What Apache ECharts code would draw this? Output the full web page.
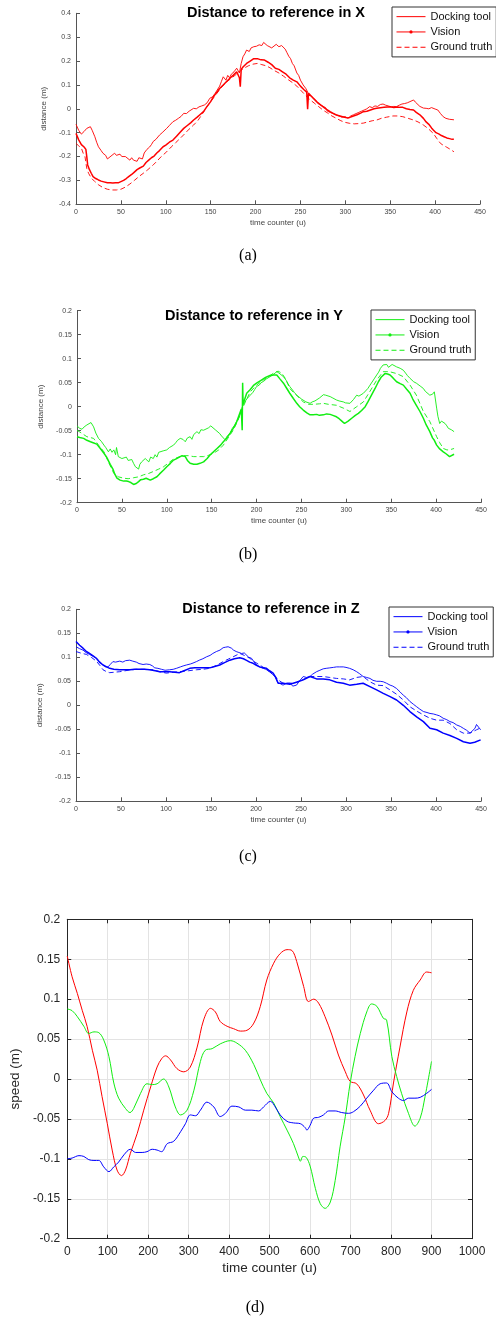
<!DOCTYPE html>
<html>
<head>
<meta charset="utf-8">
<script src="https://cdn.jsdelivr.net/npm/echarts@6/dist/echarts.min.js"></script>
<style>
  html, body { margin: 0; padding: 0; background: #ffffff; }
  #chart { width: 496px; height: 1320px; }
</style>
</head>
<body>
<div id="chart"></div>
<script>
// ---- Series names and labels ----
const seriesNames = ['Docking tool', 'Vision', 'Ground truth'];
const panelTitles = ['Distance to reference in X', 'Distance to reference in Y', 'Distance to reference in Z'];
const captions = ['(a)', '(b)', '(c)', '(d)'];

// ---- (a) distance in X: [time counter, distance] ----
const xDocking = [[0,-0.065],[3,-0.09],[6,-0.106],[9,-0.095],[12,-0.082],[14,-0.088],[16,-0.075],[18,-0.09],[21,-0.117],[23,-0.14],[25,-0.159],[28,-0.175],[30,-0.186],[33,-0.195],[35,-0.21],[37,-0.215],[39,-0.198],[41,-0.205],[43,-0.186],[45,-0.195],[47,-0.19],[49,-0.19],[51,-0.2],[53,-0.195],[55,-0.2],[57,-0.208],[60,-0.215],[62,-0.205],[64,-0.215],[66,-0.222],[68,-0.22],[70,-0.205],[72,-0.2],[74,-0.21],[76,-0.185],[79,-0.17],[82,-0.16],[84,-0.15],[86,-0.137],[89,-0.128],[91,-0.12],[93,-0.11],[96,-0.1],[98,-0.095],[101,-0.082],[104,-0.07],[106,-0.065],[108,-0.054],[111,-0.048],[114,-0.04],[117,-0.032],[120,-0.019],[123,-0.02],[126,-0.01],[128,-0.008],[131,0.002],[134,0.0],[137,0.008],[140,0.012],[143,0.016],[146,0.025],[149,0.044],[152,0.05],[155,0.065],[157,0.072],[160,0.095],[162,0.115],[164,0.134],[167,0.12],[169,0.14],[171,0.13],[173,0.145],[176,0.155],[179,0.17],[182,0.15],[184,0.19],[186,0.218],[188,0.23],[190,0.246],[193,0.24],[195,0.255],[198,0.26],[201,0.262],[204,0.268],[207,0.265],[209,0.278],[211,0.27],[213,0.265],[215,0.26],[218,0.255],[220,0.262],[223,0.27],[226,0.26],[229,0.265],[231,0.262],[233,0.25],[235,0.235],[237,0.22],[239,0.21],[241,0.19],[243,0.18],[246,0.15],[248,0.14],[250,0.12],[253,0.1],[256,0.085],[258,0.07],[260,0.058],[263,0.05],[266,0.04],[268,0.035],[270,0.02],[272,0.025],[275,0.01],[278,0.005],[280,-0.01],[283,-0.015],[286,-0.02],[290,-0.025],[293,-0.03],[296,-0.035],[300,-0.033],[303,-0.04],[306,-0.03],[309,-0.025],[312,-0.02],[315,-0.015],[318,-0.01],[321,-0.005],[324,0.0],[327,0.009],[330,0.005],[333,0.012],[336,0.01],[339,0.018],[342,0.02],[345,0.015],[348,0.012],[351,0.008],[354,0.01],[357,0.009],[360,0.015],[363,0.02],[366,0.022],[369,0.025],[372,0.03],[376,0.037],[378,0.028],[380,0.02],[383,0.01],[387,0.003],[390,0.002],[393,0.0],[396,0.005],[400,-0.001],[403,-0.005],[406,-0.02],[409,-0.033],[412,-0.04],[414,-0.038],[416,-0.044],[418,-0.04],[421,-0.046]];
const xVision = [[0,-0.103],[3,-0.13],[6,-0.15],[9,-0.16],[11,-0.17],[12,-0.2],[13,-0.235],[15,-0.255],[17,-0.27],[19,-0.284],[22,-0.292],[25,-0.298],[28,-0.303],[31,-0.306],[35,-0.31],[38,-0.31],[41,-0.311],[44,-0.31],[47,-0.31],[50,-0.305],[53,-0.3],[56,-0.292],[59,-0.283],[62,-0.275],[65,-0.265],[68,-0.255],[71,-0.248],[75,-0.24],[78,-0.225],[81,-0.215],[84,-0.205],[87,-0.198],[90,-0.185],[93,-0.175],[97,-0.159],[100,-0.152],[104,-0.14],[108,-0.131],[112,-0.115],[116,-0.098],[120,-0.082],[124,-0.07],[128,-0.058],[131,-0.047],[135,-0.035],[138,-0.025],[142,-0.012],[146,0.01],[150,0.03],[153,0.05],[157,0.07],[160,0.085],[164,0.1],[168,0.115],[172,0.13],[175,0.14],[179,0.155],[181,0.16],[182,0.13],[183,0.093],[184,0.165],[186,0.175],[190,0.19],[194,0.2],[198,0.21],[202,0.21],[206,0.205],[210,0.204],[214,0.195],[218,0.185],[222,0.17],[226,0.165],[230,0.155],[234,0.145],[238,0.13],[242,0.12],[246,0.113],[250,0.095],[254,0.08],[256,0.075],[257,0.07],[258,-0.002],[259,0.065],[261,0.058],[264,0.045],[268,0.03],[272,0.018],[275,0.009],[279,-0.002],[283,-0.012],[287,-0.02],[290,-0.026],[294,-0.03],[298,-0.034],[302,-0.038],[305,-0.036],[309,-0.03],[313,-0.025],[317,-0.018],[320,-0.012],[324,-0.01],[328,-0.005],[332,0.0],[335,0.002],[339,0.004],[343,0.006],[347,0.008],[350,0.009],[354,0.005],[358,0.008],[361,0.006],[364,0.006],[368,0.0],[372,-0.003],[376,-0.005],[379,-0.015],[383,-0.025],[387,-0.04],[390,-0.055],[393,-0.065],[396,-0.08],[398,-0.089],[401,-0.1],[404,-0.105],[407,-0.112],[410,-0.117],[413,-0.122],[416,-0.125],[419,-0.128],[421,-0.127]];
const xTruth = [[0,-0.145],[3,-0.155],[6,-0.165],[8,-0.186],[10,-0.2],[12,-0.25],[14,-0.27],[17,-0.29],[21,-0.305],[25,-0.318],[30,-0.33],[35,-0.337],[40,-0.34],[45,-0.34],[50,-0.337],[55,-0.328],[60,-0.315],[65,-0.3],[70,-0.284],[75,-0.27],[80,-0.255],[86,-0.235],[90,-0.22],[95,-0.2],[101,-0.18],[106,-0.16],[111,-0.142],[116,-0.124],[121,-0.105],[126,-0.085],[131,-0.068],[136,-0.048],[141,-0.02],[146,0.009],[151,0.035],[157,0.065],[162,0.09],[167,0.11],[172,0.125],[177,0.14],[182,0.155],[187,0.17],[192,0.18],[197,0.187],[202,0.19],[207,0.185],[212,0.18],[216,0.172],[221,0.16],[226,0.15],[231,0.137],[236,0.123],[241,0.11],[246,0.095],[251,0.075],[256,0.055],[261,0.037],[266,0.022],[270,0.01],[275,-0.005],[280,-0.017],[285,-0.03],[290,-0.04],[295,-0.05],[300,-0.057],[305,-0.061],[310,-0.063],[315,-0.062],[320,-0.06],[325,-0.055],[330,-0.05],[335,-0.047],[340,-0.04],[346,-0.035],[353,-0.03],[358,-0.03],[364,-0.033],[370,-0.04],[376,-0.047],[381,-0.055],[387,-0.068],[392,-0.082],[398,-0.103],[402,-0.125],[406,-0.145],[410,-0.155],[413,-0.161],[417,-0.17],[421,-0.18]];

// ---- (b) distance in Y ----
const yDocking = [[0,-0.04],[3,-0.045],[5.6,-0.047],[8,-0.042],[11,-0.038],[13,-0.035],[15.6,-0.033],[17,-0.036],[18.5,-0.042],[21,-0.055],[24,-0.066],[27,-0.072],[30,-0.08],[32,-0.085],[35,-0.094],[37,-0.088],[39,-0.095],[41,-0.09],[43,-0.1],[44,-0.085],[46,-0.104],[48,-0.1],[50,-0.108],[52,-0.11],[55,-0.105],[57,-0.112],[59,-0.115],[61,-0.11],[63,-0.118],[65,-0.125],[67,-0.128],[68.6,-0.13],[70,-0.12],[72,-0.115],[74,-0.118],[76,-0.108],[78,-0.11],[80,-0.115],[82,-0.105],[85,-0.108],[87,-0.1],[89,-0.105],[91,-0.095],[93,-0.097],[96,-0.092],[98,-0.095],[100,-0.09],[103,-0.085],[105,-0.088],[107.6,-0.08],[110,-0.075],[112,-0.07],[115,-0.066],[117,-0.07],[118,-0.068],[120.6,-0.073],[123,-0.065],[126,-0.0625],[128,-0.068],[130,-0.058],[133.6,-0.052],[136,-0.056],[138,-0.048],[141,-0.049],[143,-0.045],[146.5,-0.044],[149,-0.04],[151,-0.042],[154,-0.048],[156,-0.052],[159,-0.056],[161,-0.061],[163,-0.065],[165,-0.069],[167,-0.062],[170.6,-0.055],[173,-0.045],[176,-0.038],[178,-0.03],[180,-0.024],[182,-0.015],[183.6,-0.003],[186,0.008],[188,0.012],[190,0.018],[193,0.024],[196,0.03],[198,0.036],[200,0.042],[203,0.045],[205,0.05],[208,0.053],[211,0.058],[215,0.0625],[218,0.066],[220,0.068],[222.5,0.073],[225,0.07],[227,0.066],[230,0.0625],[233,0.055],[235,0.048],[237,0.042],[240,0.035],[242,0.03],[244.8,0.024],[247,0.02],[250,0.016],[252,0.014],[255,0.01],[257,0.008],[259.6,0.007],[262,0.01],[265,0.012],[267,0.014],[270,0.018],[272,0.022],[274.5,0.025],[277,0.024],[279,0.022],[282,0.021],[285,0.018],[287,0.016],[289,0.014],[292,0.012],[294,0.011],[296.7,0.01],[299,0.008],[301,0.006],[304,0.007],[306,0.01],[308,0.015],[311.5,0.024],[314,0.022],[316,0.025],[319,0.028],[321,0.032],[324,0.038],[326.4,0.045],[328,0.048],[331,0.058],[333.8,0.066],[336,0.072],[338,0.08],[341,0.087],[343,0.083],[345,0.088],[347,0.082],[348.7,0.085],[351,0.088],[353,0.084],[356,0.083],[358,0.086],[360,0.08],[363.5,0.076],[366,0.07],[368,0.065],[371,0.059],[373,0.055],[375,0.052],[378,0.049],[380,0.045],[383,0.042],[385.8,0.038],[388,0.032],[390,0.028],[393,0.024],[395,0.028],[396,0.026],[398,0.031],[399,0.028],[400.6,-0.003],[402,-0.02],[404,-0.035],[406,-0.03],[408,-0.028],[410,-0.035],[412,-0.04],[413.6,-0.045],[415,-0.042],[417,-0.048],[420,-0.052]];
const yVision = [[0,-0.0625],[3,-0.064],[7.4,-0.066],[11,-0.07],[15,-0.073],[18,-0.075],[22,-0.078],[26,-0.087],[30,-0.097],[33,-0.105],[37,-0.12],[40,-0.13],[42,-0.14],[44.5,-0.149],[48,-0.153],[52,-0.155],[55,-0.155],[57.5,-0.156],[60,-0.158],[63,-0.162],[66,-0.16],[68.6,-0.156],[71,-0.152],[74,-0.151],[77,-0.149],[79,-0.152],[81.6,-0.153],[85,-0.15],[89,-0.146],[92,-0.14],[96.5,-0.132],[100,-0.125],[104,-0.118],[107,-0.112],[111,-0.108],[114,-0.105],[117,-0.102],[120.6,-0.104],[123,-0.112],[126,-0.118],[130,-0.12],[133.6,-0.12],[137,-0.118],[141,-0.115],[145,-0.108],[148.4,-0.1],[152,-0.094],[156,-0.087],[160,-0.08],[163,-0.073],[167,-0.065],[170.6,-0.055],[174,-0.045],[178,-0.031],[181,-0.015],[183,-0.005],[184,-0.049],[184.5,0.05],[185,0.005],[189,0.028],[193,0.036],[197,0.045],[200,0.049],[205,0.055],[210,0.061],[215,0.065],[219,0.066],[222.5,0.066],[226,0.058],[230,0.049],[233,0.04],[237,0.028],[241,0.017],[244.8,0.007],[248,0.0],[252,-0.007],[256,-0.013],[259.6,-0.017],[263,-0.017],[267,-0.016],[270,-0.018],[274.5,-0.017],[278,-0.015],[282,-0.016],[285,-0.018],[289,-0.021],[292,-0.025],[295,-0.03],[298,-0.035],[302,-0.03],[306,-0.024],[310,-0.018],[313.4,-0.014],[317,-0.008],[321,0.0],[324,0.01],[328,0.024],[332,0.038],[335.7,0.052],[339,0.062],[343,0.069],[346,0.068],[348.7,0.066],[352,0.06],[356,0.052],[360,0.048],[363.5,0.045],[367,0.037],[371,0.028],[374,0.016],[378,0.003],[382,-0.01],[385.8,-0.024],[389,-0.038],[393,-0.052],[396,-0.065],[398,-0.07],[400.6,-0.08],[404,-0.088],[408,-0.094],[411,-0.098],[413,-0.1],[415,-0.104],[417,-0.102],[420,-0.099]];
const yTruth = [[0,-0.049],[5,-0.055],[11,-0.0625],[18.5,-0.066],[24,-0.08],[30,-0.094],[35,-0.115],[41,-0.139],[46,-0.146],[52,-0.149],[57,-0.15],[63,-0.148],[69,-0.146],[74,-0.142],[80,-0.139],[85,-0.135],[91,-0.13],[96.5,-0.125],[102,-0.117],[107.6,-0.109],[113,-0.105],[118.7,-0.102],[124,-0.102],[130,-0.104],[136,-0.104],[141,-0.104],[147,-0.101],[152,-0.097],[158,-0.09],[163,-0.08],[168,-0.066],[174,-0.049],[179,-0.03],[183.6,-0.007],[188,0.012],[193,0.031],[200,0.045],[208,0.056],[215,0.065],[219,0.07],[224,0.074],[228,0.07],[232,0.059],[237,0.038],[242,0.028],[246,0.021],[252,0.01],[258,0.005],[264,0.005],[270,0.006],[274.5,0.007],[280,0.005],[289,0.003],[296.7,-0.003],[304,-0.01],[311.5,0.0],[319,0.01],[326,0.031],[334,0.056],[341,0.073],[348,0.073],[356,0.069],[363.5,0.0625],[371,0.045],[378,0.024],[385.8,-0.01],[393,-0.031],[400.6,-0.0625],[404,-0.075],[408,-0.087],[412,-0.09],[415,-0.09],[420,-0.087]];

// ---- (c) distance in Z ----
const zDocking = [[0,0.122],[4,0.118],[7.8,0.115],[11,0.11],[15,0.106],[19,0.102],[22.6,0.098],[26,0.092],[30,0.084],[33,0.08],[35.6,0.08],[38,0.085],[41,0.091],[44,0.09],[48.6,0.092],[52,0.09],[55,0.093],[59.7,0.094],[63,0.092],[67,0.09],[70,0.087],[74.5,0.085],[78,0.086],[82,0.085],[85,0.082],[87.5,0.078],[91,0.077],[95,0.075],[99,0.073],[104,0.074],[108,0.075],[111.6,0.077],[116,0.08],[119,0.082],[122.7,0.084],[127,0.086],[130,0.088],[133.8,0.091],[137,0.094],[141,0.097],[145,0.101],[149,0.104],[152,0.108],[156,0.112],[160,0.115],[163.5,0.12],[166,0.121],[169,0.122],[172.7,0.119],[175,0.115],[178,0.112],[181,0.11],[184,0.108],[187,0.109],[189,0.105],[192,0.1],[195,0.098],[198,0.09],[200.5,0.084],[204,0.08],[208,0.077],[211,0.075],[215,0.07],[218,0.065],[221,0.06],[224.6,0.046],[227,0.045],[230,0.042],[234,0.046],[237.6,0.046],[241,0.04],[245,0.042],[248,0.05],[252.5,0.06],[256,0.058],[260,0.06],[263,0.065],[267.3,0.07],[271,0.073],[274.7,0.076],[278,0.077],[282,0.078],[286,0.079],[289.5,0.08],[293,0.08],[297,0.08],[300,0.079],[304,0.077],[308,0.074],[311.8,0.07],[315,0.066],[319,0.06],[323,0.058],[326.6,0.056],[330,0.052],[334,0.05],[338,0.05],[341.4,0.049],[345,0.046],[349,0.042],[352,0.04],[356.2,0.035],[360,0.028],[363.7,0.021],[367,0.016],[371,0.008],[375,0.002],[378.5,-0.003],[382,-0.008],[386,-0.013],[390,-0.015],[393.3,-0.017],[397,-0.018],[400.7,-0.02],[404,-0.022],[408,-0.027],[412,-0.03],[415.5,-0.034],[419,-0.036],[423,-0.041],[427,-0.044],[430.4,-0.048],[434,-0.052],[437.8,-0.058],[440,-0.055],[443.3,-0.048],[445,-0.04],[447,-0.044],[449.6,-0.051]];
const zVision = [[0,0.133],[4,0.125],[7.8,0.119],[11,0.113],[15,0.108],[19,0.103],[22.6,0.098],[26,0.09],[30,0.084],[34,0.08],[37.4,0.077],[42,0.075],[48.6,0.074],[55,0.074],[60,0.074],[65,0.075],[70.8,0.075],[76,0.075],[82,0.074],[88,0.072],[93,0.07],[99,0.07],[104,0.07],[110,0.069],[115,0.068],[120,0.072],[126.4,0.077],[132,0.078],[137.5,0.078],[143,0.078],[148.6,0.078],[154,0.081],[159.7,0.084],[165,0.089],[170.9,0.094],[176,0.097],[182,0.099],[186,0.097],[189,0.094],[193,0.09],[196.8,0.0875],[200,0.084],[204,0.08],[208,0.078],[211.6,0.077],[215,0.072],[219,0.067],[222,0.058],[224.6,0.046],[230,0.046],[237.6,0.044],[245,0.048],[252.5,0.053],[260,0.06],[267.3,0.055],[274.7,0.055],[282,0.053],[289.5,0.048],[297,0.046],[304,0.042],[311.8,0.044],[319,0.046],[326.6,0.039],[334,0.032],[341.4,0.025],[349,0.018],[356.2,0.011],[363.7,0.0],[371,-0.013],[378.5,-0.024],[386,-0.034],[393.3,-0.048],[400.7,-0.051],[408,-0.058],[415.5,-0.063],[423,-0.069],[430.4,-0.076],[437.8,-0.079],[443,-0.077],[449.6,-0.072]];
const zTruth = [[0,0.112],[5,0.109],[11.5,0.106],[17,0.1],[22.6,0.092],[27,0.082],[30,0.074],[34,0.07],[37.4,0.068],[43,0.069],[48.6,0.07],[58,0.073],[67,0.075],[76,0.075],[85.6,0.074],[93,0.07],[100.4,0.067],[108,0.069],[115,0.07],[125,0.072],[133.8,0.074],[141,0.075],[148.6,0.077],[156,0.083],[163.5,0.091],[169,0.096],[174.6,0.101],[182,0.108],[187,0.104],[193,0.098],[198,0.091],[204,0.084],[210,0.077],[215,0.07],[220,0.063],[224.6,0.053],[230,0.046],[237.6,0.046],[245,0.048],[252.5,0.054],[260,0.06],[267.3,0.06],[274.7,0.06],[282,0.058],[289.5,0.056],[297,0.055],[304,0.053],[311.8,0.058],[319,0.06],[326.6,0.049],[334,0.042],[341.4,0.041],[349,0.032],[356.2,0.023],[363.7,0.011],[371,-0.003],[378.5,-0.012],[386,-0.02],[393.3,-0.027],[400.7,-0.031],[408,-0.031],[415.5,-0.038],[423,-0.051],[430.4,-0.058],[437.8,-0.058],[445,-0.051],[449.6,-0.047]];

// ---- (d) speed: [time counter, speed] ----
const speedRed = [[0,0.154],[12,0.128],[25,0.107],[37,0.086],[49,0.066],[62,0.036],[74,0.011],[86,-0.022],[99,-0.056],[111,-0.089],[123,-0.114],[134,-0.121],[144,-0.114],[156,-0.093],[173,-0.068],[189,-0.039],[206,-0.01],[222,0.015],[234,0.026],[243,0.029],[255,0.024],[271,0.013],[288,0.009],[304,0.015],[321,0.04],[337,0.074],[354,0.0885],[366,0.084],[378,0.072],[395,0.066],[411,0.063],[428,0.06],[444,0.061],[461,0.07],[477,0.091],[493,0.124],[510,0.145],[526,0.157],[543,0.162],[555,0.161],[567,0.147],[584,0.116],[596,0.097],[609,0.1],[621,0.095],[637,0.078],[654,0.055],[670,0.03],[687,0.009],[699,-0.003],[715,-0.006],[732,-0.02],[748,-0.039],[769,-0.056],[785,-0.052],[794,-0.043],[806,-0.005],[822,0.04],[839,0.084],[855,0.111],[872,0.124],[888,0.134],[900,0.133]];
const speedGreen = [[0,0.0877],[12,0.0856],[25,0.078],[41,0.066],[53,0.057],[66,0.059],[78,0.058],[90,0.049],[103,0.028],[115,-0.005],[127,-0.024],[144,-0.037],[155,-0.042],[164,-0.037],[181,-0.018],[197,-0.006],[210,-0.007],[222,-0.006],[238,0.0],[251,-0.01],[267,-0.035],[280,-0.045],[296,-0.039],[313,-0.014],[329,0.022],[341,0.036],[358,0.038],[378,0.044],[403,0.048],[419,0.045],[440,0.036],[461,0.018],[477,-0.001],[493,-0.018],[510,-0.03],[526,-0.047],[543,-0.064],[559,-0.081],[572,-0.099],[576,-0.103],[582,-0.097],[590,-0.098],[600,-0.109],[613,-0.137],[625,-0.156],[637,-0.162],[650,-0.154],[662,-0.127],[674,-0.085],[687,-0.047],[699,-0.005],[711,0.028],[724,0.057],[740,0.084],[752,0.094],[765,0.091],[781,0.076],[789,0.074],[802,0.028],[814,0.003],[826,-0.018],[843,-0.043],[859,-0.059],[872,-0.049],[884,-0.022],[900,0.022]];
const speedBlue = [[0,-0.1],[12,-0.099],[29,-0.096],[41,-0.097],[53,-0.101],[66,-0.102],[78,-0.102],[90,-0.11],[103,-0.116],[115,-0.11],[127,-0.104],[140,-0.095],[156,-0.088],[169,-0.092],[185,-0.092],[197,-0.091],[210,-0.088],[222,-0.089],[233,-0.091],[247,-0.081],[263,-0.078],[280,-0.066],[292,-0.056],[304,-0.045],[317,-0.046],[329,-0.039],[345,-0.029],[362,-0.035],[378,-0.047],[391,-0.043],[407,-0.034],[424,-0.035],[440,-0.039],[456,-0.039],[473,-0.04],[485,-0.035],[502,-0.028],[514,-0.035],[526,-0.045],[543,-0.053],[559,-0.055],[576,-0.056],[588,-0.061],[592,-0.064],[600,-0.058],[609,-0.049],[621,-0.048],[633,-0.045],[646,-0.04],[662,-0.04],[678,-0.042],[695,-0.043],[707,-0.041],[724,-0.034],[740,-0.024],[757,-0.014],[773,-0.006],[789,-0.005],[802,-0.016],[818,-0.024],[831,-0.027],[843,-0.024],[859,-0.024],[872,-0.023],[888,-0.018],[900,-0.013]];

// ---- Layout and style ----
const SANS = 'Liberation Sans, Arial, sans-serif';
const SERIF = 'Liberation Serif, Times New Roman, serif';
const AXIS_GRAY = '#555555';
const plainNumber = v => String(v);

const distPanels = [
  { grid: { left: 76, top: 13.3, width: 404, height: 191 }, yMin: -0.4, yMax: 0.4, yStep: 0.1,
    color: '#ff0000', data: [xDocking, xVision, xTruth], titleY: 12.5, titleX: 276,
    legend: { left: 392, top: 7 }, captionY: 256 },
  { grid: { left: 77, top: 310.7, width: 404, height: 192 }, yMin: -0.2, yMax: 0.2, yStep: 0.05,
    color: '#11ee11', data: [yDocking, yVision, yTruth], titleY: 315.7, titleX: 254,
    legend: { left: 371, top: 310 }, captionY: 555 },
  { grid: { left: 76, top: 609.3, width: 405, height: 192 }, yMin: -0.2, yMax: 0.2, yStep: 0.05,
    color: '#0000ff', data: [zDocking, zVision, zTruth], titleY: 609, titleX: 271,
    legend: { left: 389, top: 607 }, captionY: 857 }
];

const grids = [], xAxes = [], yAxes = [], series = [], legends = [], graphics = [];

distPanels.forEach((p, i) => {
  grids.push(Object.assign({ containLabel: false }, p.grid));
  xAxes.push({
    gridIndex: i, type: 'value', min: 0, max: 450, interval: 50,
    axisLine: { show: true, onZero: false, lineStyle: { color: AXIS_GRAY, width: 1 } },
    axisTick: { show: true, inside: true, length: 4, lineStyle: { color: AXIS_GRAY } },
    axisLabel: { fontSize: 7, color: '#444', margin: 4, fontFamily: SANS, formatter: plainNumber },
    splitLine: { show: false },
    name: 'time counter (u)', nameLocation: 'middle', nameGap: 14,
    nameTextStyle: { fontSize: 8, color: '#444', fontFamily: SANS }
  });
  yAxes.push({
    gridIndex: i, type: 'value', min: p.yMin, max: p.yMax, interval: p.yStep,
    axisLine: { show: true, onZero: false, lineStyle: { color: AXIS_GRAY, width: 1 } },
    axisTick: { show: true, inside: true, length: 4, lineStyle: { color: AXIS_GRAY } },
    axisLabel: { fontSize: 7, color: '#444', margin: 5, fontFamily: SANS },
    splitLine: { show: false },
    name: 'distance (m)', nameLocation: 'middle', nameGap: 27,
    nameTextStyle: { fontSize: 8, color: '#444', fontFamily: SANS }
  });
  seriesNames.forEach((name, k) => {
    series.push({
      name: name, type: 'line', xAxisIndex: i, yAxisIndex: i,
      data: p.data[k], symbol: 'none', animation: false, silent: true,
      lineStyle: {
        color: p.color,
        width: k === 1 ? 1.5 : 0.9,
        type: k === 2 ? [5, 3] : 'solid'
      },
      itemStyle: { color: p.color },
      z: 3 - k
    });
  });
  legends.push({
    left: p.legend.left, top: p.legend.top, orient: 'vertical',
    backgroundColor: '#ffffff', borderColor: '#333333', borderWidth: 1,
    padding: [3, 4, 3, 4], itemGap: 2, itemWidth: 29, itemHeight: 4,
    selectedMode: false,
    textStyle: { fontSize: 11, color: '#111', fontFamily: SANS, lineHeight: 13.3 },
    data: seriesNames.map((name, k) => ({
      name: name,
      lineStyle: { color: p.color, width: 1, type: k === 2 ? [5, 3] : 'solid', opacity: 1 },
      itemStyle: { color: p.color, opacity: k === 1 ? 1 : 0, borderWidth: 0 }
    }))
  });
  graphics.push({
    type: 'text', x: p.titleX, y: p.titleY,
    style: { text: panelTitles[i], font: 'bold 14.5px ' + SANS, fill: '#000',
             textAlign: 'center', textVerticalAlign: 'middle' }
  });
  graphics.push({
    type: 'text', x: 248, y: p.captionY,
    style: { text: captions[i], font: '16px ' + SERIF, fill: '#000',
             textAlign: 'center', textVerticalAlign: 'middle' }
  });
});

// ---- (d) speed panel: boxed axes with grid lines ----
const BOX = '#262626';
grids.push({ left: 67, top: 919.3, width: 405, height: 319.4, show: false });
const gi = 3;
xAxes.push({
  gridIndex: gi, type: 'value', min: 0, max: 1000, interval: 100,
  axisLine: { show: true, onZero: false, lineStyle: { color: BOX, width: 1 } },
  axisTick: { show: true, inside: true, length: 4, lineStyle: { color: BOX } },
  axisLabel: { fontSize: 12, color: BOX, margin: 7, fontFamily: SANS, formatter: plainNumber },
  splitLine: { show: true, lineStyle: { color: '#e3e3e3', width: 1 } },
  name: 'time counter (u)', nameLocation: 'middle', nameGap: 23,
  nameTextStyle: { fontSize: 13.5, color: BOX, fontFamily: SANS }
});
yAxes.push({
  gridIndex: gi, type: 'value', min: -0.2, max: 0.2, interval: 0.05,
  axisLine: { show: true, onZero: false, lineStyle: { color: BOX, width: 1 } },
  axisTick: { show: true, inside: true, length: 4, lineStyle: { color: BOX } },
  axisLabel: { fontSize: 12, color: BOX, margin: 7, fontFamily: SANS },
  splitLine: { show: true, lineStyle: { color: '#e3e3e3', width: 1 } },
  name: 'speed (m)', nameLocation: 'middle', nameGap: 44,
  nameTextStyle: { fontSize: 13.5, color: BOX, fontFamily: SANS }
});
// mirror axes close the box on top and right
xAxes.push({
  gridIndex: gi, type: 'value', min: 0, max: 1000, interval: 100, position: 'top',
  axisLine: { show: true, onZero: false, lineStyle: { color: BOX, width: 1 } },
  axisTick: { show: true, inside: true, length: 4, lineStyle: { color: BOX } },
  axisLabel: { show: false }, splitLine: { show: false }
});
yAxes.push({
  gridIndex: gi, type: 'value', min: -0.2, max: 0.2, interval: 0.05, position: 'right',
  axisLine: { show: true, onZero: false, lineStyle: { color: BOX, width: 1 } },
  axisTick: { show: true, inside: true, length: 4, lineStyle: { color: BOX } },
  axisLabel: { show: false }, splitLine: { show: false }
});
[[speedRed, '#ff0000'], [speedGreen, '#11ee11'], [speedBlue, '#0000ff']].forEach(([d, c]) => {
  series.push({
    type: 'line', xAxisIndex: 3, yAxisIndex: 3, data: d, symbol: 'none',
    smooth: 0.35, animation: false, silent: true,
    lineStyle: { color: c, width: 1 }
  });
});
graphics.push({
  type: 'text', x: 255, y: 1307.7,
  style: { text: captions[3], font: '16px ' + SERIF, fill: '#000',
           textAlign: 'center', textVerticalAlign: 'middle' }
});

const chart = echarts.init(document.getElementById('chart'), null, { renderer: 'canvas' });
chart.setOption({
  backgroundColor: '#ffffff',
  animation: false,
  grid: grids,
  xAxis: xAxes,
  yAxis: yAxes,
  legend: legends,
  series: series,
  graphic: graphics
});
</script>
</body>
</html>
